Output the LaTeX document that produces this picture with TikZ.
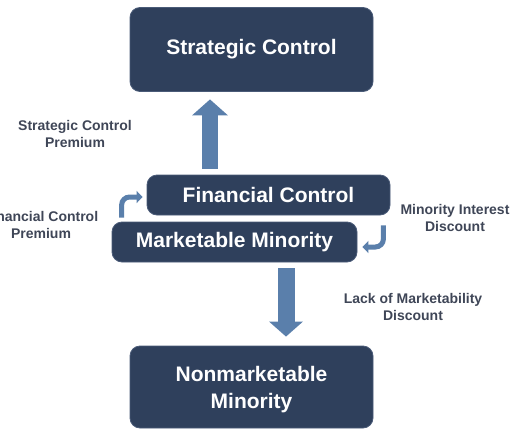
\documentclass[tikz,border=0pt]{standalone}
\usepackage{fontspec}
\setmainfont{Liberation Sans}
\usetikzlibrary{arrows.meta}
\definecolor{boxfill}{HTML}{2F405C}
\definecolor{boxedge}{HTML}{4A5B78}
\definecolor{arrowblue}{HTML}{5A7FAB}
\definecolor{labelgray}{HTML}{3F4657}
\tikzset{
  mainbox/.style={draw=boxedge, line width=0.8pt, fill=boxfill, rounded corners=10pt,
    text=white, font=\fontsize{21}{27}\selectfont\bfseries, align=center, inner sep=0pt},
  sidelabel/.style={text=labelgray, font=\fontsize{14}{17}\selectfont\bfseries, align=center, inner sep=0pt},
  bigarrow/.style={draw=arrowblue, line width=#1},
  smallarrow/.style={draw=arrowblue, line width=5pt, rounded corners=8pt, -{Triangle[length=6pt,width=12pt]}}
}
\begin{document}
\begin{tikzpicture}[x=1pt,y=-1pt]
\useasboundingbox (0,0) rectangle (530,442);
\clip (0,0) rectangle (530,442);
\node[mainbox, minimum width=243pt, minimum height=84pt] (SC) at (251.5,49.5) {Strategic Control};
\node[mainbox, minimum width=243pt, minimum height=40pt] (FC) at (268.5,195) {Financial Control};
\node[mainbox, minimum width=245pt, minimum height=40pt] (MM) at (234.5,242) {Marketable Minority};
\node[mainbox, minimum width=243pt, minimum height=82pt] (NM) at (251.5,387) {\rule{0pt}{20pt}Nonmarketable\\Minority};
% big arrows
\draw[bigarrow=16pt, -{Triangle[length=16pt,width=35pt]}]
  ([xshift=-58.5pt,yshift=6pt]FC.north) -- ([xshift=-41.5pt,yshift=-7.5pt]SC.south);
\draw[bigarrow=17pt, -{Triangle[length=15pt,width=33pt]}]
  ([xshift=51.5pt,yshift=-6pt]MM.south) -- ([xshift=34.5pt,yshift=9pt]NM.north);
% small bent arrows
\draw[smallarrow] ([xshift=10pt,yshift=4pt]MM.north west) |- ([xshift=-4pt,yshift=-2pt]FC.west);
\draw[smallarrow] ([xshift=-7pt,yshift=-10pt]FC.south east) |- ([xshift=5pt,yshift=-5pt]MM.east);
% labels
\node[sidelabel] (SCP) at (75,133.5) {Strategic Control\\Premium};
\node[sidelabel] (FCP) at (41,225) {Financial Control\\Premium};
\node[sidelabel] (MID) at (455,218) {Minority Interest\\Discount};
\node[sidelabel] (LMD) at (413,306.5) {Lack of Marketability\\Discount};
\end{tikzpicture}
\end{document}
